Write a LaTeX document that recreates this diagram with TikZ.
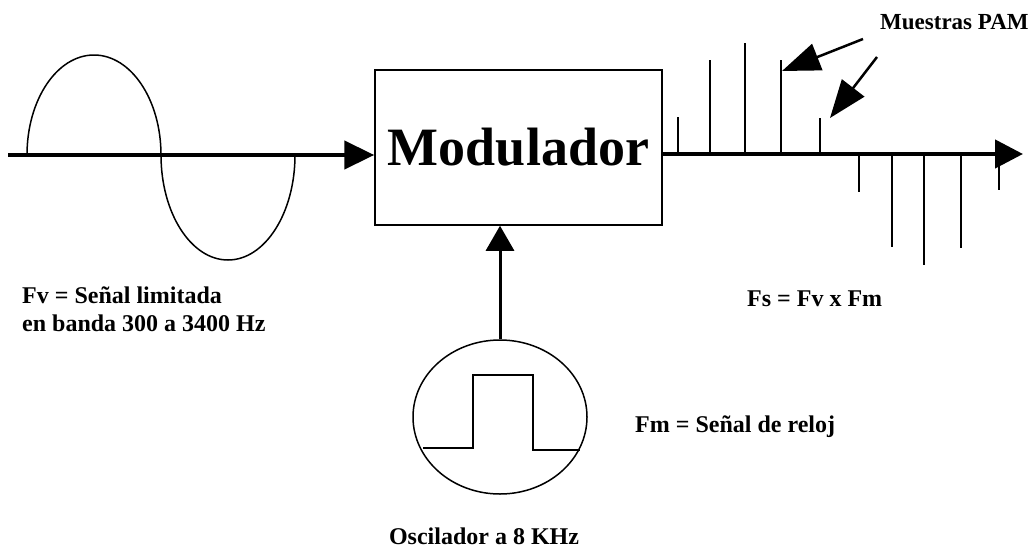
\documentclass[tikz,border=0pt]{standalone}
\usepackage{fontspec}
\setmainfont{Liberation Serif}
\usetikzlibrary{arrows.meta,shapes.geometric}
\begin{document}
\begin{tikzpicture}[x=1pt,y=-1pt,
  lbl/.style={font=\fontsize{24}{26}\selectfont\bfseries, inner sep=0pt},
  axis/.style={line width=4.5pt},
  bigtip/.style={-{Triangle[length=30pt,width=28pt]}},
  sample/.style={line width=2pt},
  thin/.style={line width=1.5pt}]
\useasboundingbox (0,0) rectangle (1036,549);
% modulator box
\node[draw, thin, minimum width=287pt, minimum height=155pt, inner sep=0pt,
      font=\fontsize{54}{56}\selectfont\bfseries] (mod) at (518.5,147.5) {Modulador};
% input signal
\coordinate (inL) at (8,155);
\draw[axis, bigtip] (inL) -- (inL -| mod.west);
\draw[thin] (27,155) arc[start angle=180, end angle=360, x radius=67, y radius=100]
            arc[start angle=180, end angle=0, x radius=67, y radius=105];
% output axis
\coordinate (outR) at (1023,154);
\draw[axis, -{Triangle[length=28pt,width=28pt]}] (outR -| mod.east) -- (outR);
% PAM samples
\foreach \x/\y in {678/117, 710/60, 745/43, 781/60, 820/118, 859/192, 892/247, 924/265, 961/248, 999/190}
  \draw[sample] (\x,154) -- (\x,\y);
% oscillator
\node[draw, thin, ellipse, minimum width=174pt, minimum height=154pt, inner sep=0pt] (osc) at (500,417) {};
\draw[line width=2pt] (423,448) -- (473,448) -- (473,375) -- (533,375) -- (533,450) -- (580,450);
\draw[line width=3pt, -{Triangle[length=25pt,width=28pt]}] (osc.north) -- (osc.north |- mod.south);
% labels
\node[lbl, anchor=west] (fv1) at (22,295) {Fv = Señal limitada};
\node[lbl, anchor=west] (fv2) at (22,323) {en banda 300 a 3400 Hz};
\node[lbl, anchor=west] (fs) at (747,299) {Fs = Fv x Fm};
\node[lbl, anchor=west] (fm) at (635,427) {Fm = Señal de reloj};
\node[lbl] (osct) at (484,536) {Oscilador a 8 KHz};
\node[lbl, anchor=west, font=\fontsize{23}{25}\selectfont\bfseries] (pam) at (880,22) {Muestras PAM};
% PAM pointer arrows
\coordinate (t1) at (863,39);
\coordinate (t2) at (877,57);
\coordinate (h1) at (782,71);
\coordinate (h2) at (830,118);
\draw[line width=2.5pt, -{Triangle[length=38pt,width=28pt]}] (t1) -- (h1);
\draw[line width=2.5pt, -{Triangle[length=38pt,width=28pt]}] (t2) -- (h2);
\end{tikzpicture}
\end{document}
